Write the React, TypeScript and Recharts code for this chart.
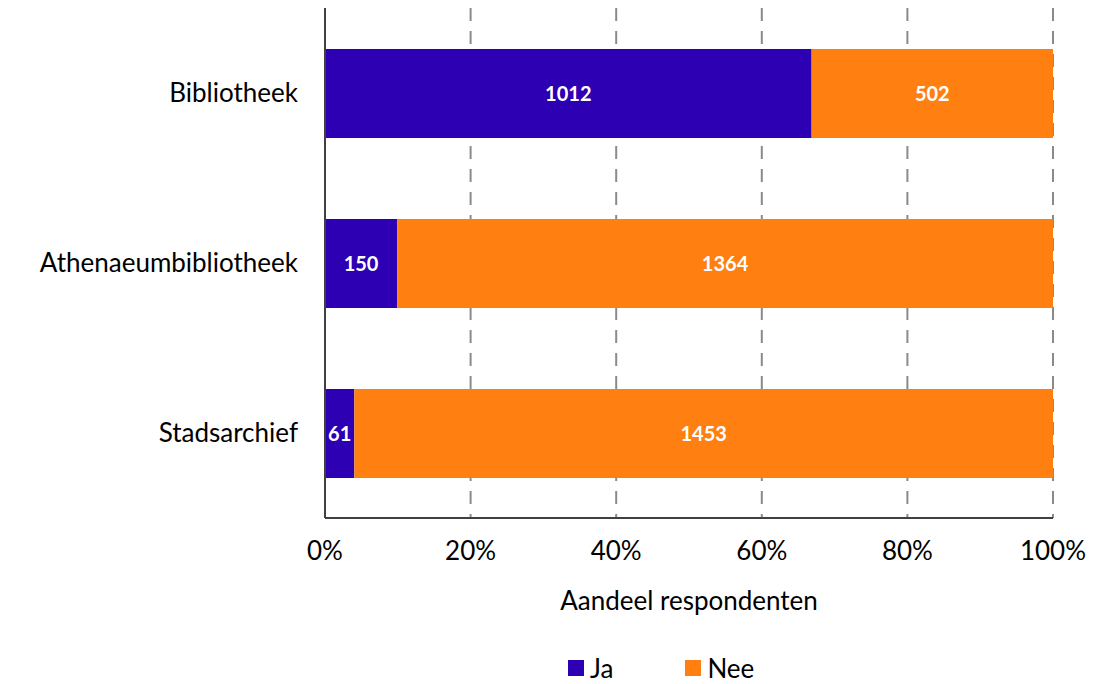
import { BarChart, Bar, XAxis, YAxis, CartesianGrid, Legend, LabelList } from 'recharts';

const categories = ['Bibliotheek', 'Athenaeumbibliotheek', 'Stadsarchief'];
const jaValues = [1012, 150, 61];
const neeValues = [502, 1364, 1453];
const xTicks = [0, 0.2, 0.4, 0.6, 0.8, 1];

const data = categories.map((name, i) => ({ name, ja: jaValues[i], nee: neeValues[i] }));

const FONT = 'Lato, "Open Sans", sans-serif';
const JA = '#2D00B3';
const NEE = '#FF7F10';

function LegendContent() {
  const items = [
    { label: 'Ja', color: JA },
    { label: 'Nee', color: NEE },
  ];
  return (
    <div style={{ display: 'flex', gap: 72, fontFamily: FONT, fontSize: 26, color: '#000', lineHeight: '32px' }}>
      {items.map((it) => (
        <div key={it.label} style={{ display: 'flex', alignItems: 'center', gap: 6 }}>
          <div style={{ width: 16, height: 16, background: it.color }} />
          <span>{it.label}</span>
        </div>
      ))}
    </div>
  );
}

export default function App() {
  return (
    <div style={{ position: 'absolute', left: 0, top: 0, width: 1114, height: 684, background: '#fff' }}>
      <BarChart
        width={1114}
        height={684}
        data={data}
        layout="vertical"
        stackOffset="expand"
        barSize={89}
        margin={{ top: 8, right: 61, left: 0, bottom: 0 }}
      >
        <CartesianGrid horizontal={false} stroke="#8a8a8a" strokeWidth={2} strokeDasharray="13 10" />
        <XAxis
          type="number"
          domain={[0, 1]}
          ticks={xTicks}
          tickFormatter={(v: number) => `${Math.round(v * 100)}%`}
          axisLine={{ stroke: '#404040', strokeWidth: 2 }}
          tickLine={false}
          tickSize={0}
          tickMargin={24}
          height={134}
          tick={{ fill: '#000', fontSize: 26, fontFamily: FONT }}
          label={{ value: 'Aandeel respondenten', position: 'insideTop', offset: 74, fill: '#000', fontSize: 26, fontFamily: FONT }}
        />
        <YAxis
          type="category"
          dataKey="name"
          width={325}
          axisLine={{ stroke: '#404040', strokeWidth: 2 }}
          tickLine={false}
          tickSize={0}
          tickMargin={27}
          tick={{ fill: '#000', fontSize: 26, fontFamily: FONT }}
        />
        <Legend verticalAlign="bottom" content={<LegendContent />} wrapperStyle={{ left: 568, width: 'auto', bottom: 0 }} />
        <Bar dataKey="ja" stackId="a" fill={JA} isAnimationActive={false}>
          <LabelList dataKey="ja" position="center" fill="#fff" fontSize={20} fontWeight="bold" fontFamily={FONT} />
        </Bar>
        <Bar dataKey="nee" stackId="a" fill={NEE} isAnimationActive={false}>
          <LabelList dataKey="nee" position="center" fill="#fff" fontSize={20} fontWeight="bold" fontFamily={FONT} />
        </Bar>
      </BarChart>
    </div>
  );
}
